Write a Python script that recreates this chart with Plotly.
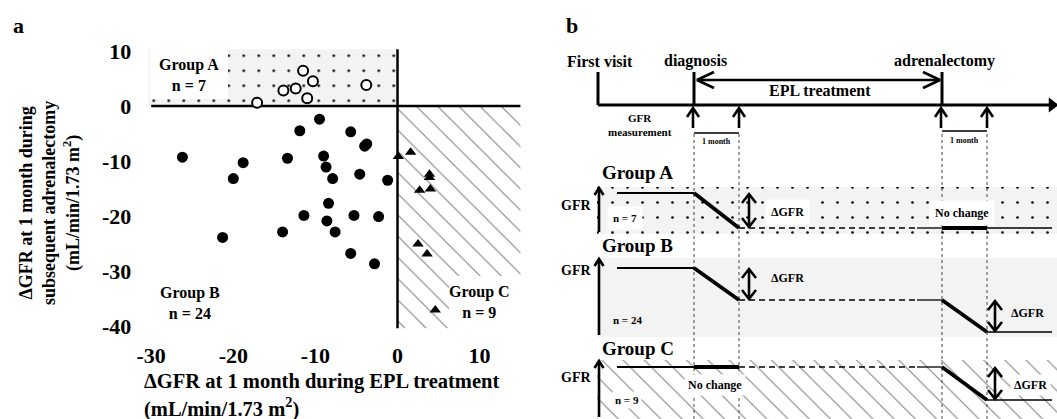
import plotly.graph_objects as go

W, H = 1057, 419
FONT = "Liberation Serif"

# ---------------- Panel a data ----------------
groupA_x = [-17.1, -13.9, -12.4, -11.5, -11.0, -10.3, -3.8]
groupA_y = [0.6, 2.8, 3.2, 6.4, 1.4, 4.5, 3.8]
groupB_x = [-26.2, -18.8, -20.0, -13.4, -11.9, -9.5, -5.7, -4.0, -3.75, -9.0, -8.7, -7.9,
            -4.6, -1.2, -8.4, -11.4, -8.6, -5.3, -2.3, -7.6, -14.0, -21.3, -5.7, -2.8]
groupB_y = [-9.3, -10.3, -13.2, -9.5, -4.5, -2.4, -4.7, -7.3, -6.9, -9.1, -11.1, -13.2,
            -12.4, -13.5, -17.7, -19.9, -20.9, -19.9, -20.1, -22.9, -22.9, -23.9, -26.8, -28.7]
groupC_x = [0.1, 1.6, 3.9, 3.9, 2.7, 4.0, 2.5, 3.6, 4.6]
groupC_y = [-9.2, -8.4, -12.4, -13.0, -15.3, -15.1, -25.1, -26.9, -37.1]
x_ticks = [-30, -20, -10, 0, 10]
y_ticks = [10, 0, -10, -20, -30, -40]
x_range = [-30.6, 15.0]
y_range = [-41.0, 10.5]
quadA_x = [-30.3, 0.0]     # shaded region of group A
quadA_y = [0.0, 10.3]
quadC_x = [0.0, 15.0]      # hatched region of group C
quadC_y = [-40.4, 0.0]

# ---------------- Panel b schematic (schematic units) ----------------
t_first, t_diag, t_diag_1m, t_adx, t_adx_1m, t_end = 598, 694, 739, 942, 987, 1052
t_line_start, t_dash_end = 617, 917
timeline_y = 105
group_names = ["Group A", "Group B", "Group C"]
group_n = ["n = 7", "n = 24", "n = 9"]
band_top = [187, 258, 360]
band_bot = [234, 337, 419]
level_hi = [193, 268, 367]
level_mid = [228, 300, 367]
level_lo = [228, 332, 400]
band_fill = ["dots", "plain", "hatch"]


def px(x):
    return x / W


def py(y):
    return 1 - y / H


def F(size, color="black"):
    return dict(family=FONT, size=size, color=color, weight="bold")


DOTS = dict(shape=".", fgcolor="black", bgcolor="#f3f3f3", size=15, solidity=0.025)
HATCH = dict(shape="\\", fgcolor="black", fgopacity=0.5, bgcolor="white", size=15, solidity=0.07)

fig = go.Figure()

# ---- Panel a regions ----
fig.add_trace(go.Scatter(
    x=[quadA_x[0], quadA_x[1], quadA_x[1], quadA_x[0], quadA_x[0]],
    y=[quadA_y[0], quadA_y[0], quadA_y[1], quadA_y[1], quadA_y[0]],
    fill="toself", mode="lines", line=dict(width=0), fillcolor="#f3f3f3",
    fillpattern=DOTS, hoverinfo="skip", xaxis="x", yaxis="y"))
fig.add_trace(go.Scatter(
    x=[quadC_x[0], quadC_x[1], quadC_x[1], quadC_x[0], quadC_x[0]],
    y=[quadC_y[0], quadC_y[0], quadC_y[1], quadC_y[1], quadC_y[0]],
    fill="toself", mode="lines", line=dict(width=0), fillcolor="white",
    fillpattern=HATCH, hoverinfo="skip", xaxis="x", yaxis="y"))

# zero lines
fig.add_trace(go.Scatter(x=[-30.0, x_range[1], None, 0, 0], y=[0, 0, None, quadA_y[1], quadC_y[0]],
                         mode="lines", line=dict(color="black", width=2.5), hoverinfo="skip",
                         xaxis="x", yaxis="y"))

# points
fig.add_trace(go.Scatter(x=groupB_x, y=groupB_y, mode="markers",
                         marker=dict(symbol="circle", size=11, color="black"), xaxis="x", yaxis="y"))
fig.add_trace(go.Scatter(x=groupA_x, y=groupA_y, mode="markers",
                         marker=dict(symbol="circle", size=10, color="white",
                                     line=dict(color="black", width=2)), xaxis="x", yaxis="y"))
fig.add_trace(go.Scatter(x=groupC_x, y=groupC_y, mode="markers",
                         marker=dict(symbol="triangle-up", size=10, color="black"), xaxis="x", yaxis="y"))

# ---- Panel b ----
for i in range(3):
    xs = [597, W, W, 597, 597]
    ys = [band_top[i], band_top[i], band_bot[i], band_bot[i], band_top[i]]
    if band_fill[i] == "dots":
        kw = dict(fillpattern=DOTS, fillcolor="#f3f3f3")
    elif band_fill[i] == "hatch":
        kw = dict(fillpattern=HATCH, fillcolor="white")
    else:
        kw = dict(fillcolor="#f3f3f3")
    fig.add_trace(go.Scatter(x=xs, y=ys, fill="toself", mode="lines", line=dict(width=0),
                             hoverinfo="skip", xaxis="x2", yaxis="y2", **kw))

seg = {"dot": ([], []), "thin": ([], []), "med": ([], []), "thick": ([], []),
       "dash": ([], []), "arrow": ([], []), "axis": ([], [])}


def add(style, x0, y0, x1, y1):
    seg[style][0].extend([x0, x1, None])
    seg[style][1].extend([y0, y1, None])


def chev(style, x, y, dx, dy, w, d):
    bx, by = x - dx * d, y - dy * d
    pxv, pyv = -dy, dx
    seg[style][0].extend([bx + pxv * w, x, bx - pxv * w, None])
    seg[style][1].extend([by + pyv * w, y, by - pyv * w, None])


# dotted guides
for t in [t_diag, t_diag_1m, t_adx, t_adx_1m]:
    add("dot", t, 134, t, H)

# timeline
add("axis", t_first, timeline_y, t_end, timeline_y)
for t in [t_first, t_diag, t_adx]:
    add("axis", t, 72, t, timeline_y)
# EPL treatment double arrow
add("arrow", t_diag + 3, 80, t_adx - 2, 80)
chev("arrow", t_diag + 3, 80, -1, 0, 8, 17)
chev("arrow", t_adx - 2, 80, 1, 0, 8, 17)
# measurement arrows
for t in [t_diag - 1, t_diag_1m, t_adx - 1, t_adx_1m]:
    add("arrow", t, 128, t, 108)
    chev("arrow", t, 108, 0, -1, 6, 9)
# 1 month brackets
add("thin", t_diag, 133, t_diag_1m, 133)
add("thin", t_adx, 131, t_adx_1m, 131)

for i in range(3):
    hi, mid, lo = level_hi[i], level_mid[i], level_lo[i]
    add("med", t_line_start, hi, t_diag, hi)
    add("thick", t_diag, hi, t_diag_1m, mid)
    add("dash", t_diag_1m, mid, t_dash_end, mid)
    add("thin", t_dash_end, mid, t_adx, mid)
    add("thick", t_adx, mid, t_adx_1m, lo)
    add("thin", t_adx_1m, lo, t_end, lo)
    # GFR axis arrow
    add("arrow", 599, band_bot[i] - 2, 599, band_top[i] + 1)
    chev("arrow", 599, band_top[i] + 1, 0, -1, 4.5, 7)
    if hi != mid:
        add("arrow", 749, hi + 1, 749, mid - 1)
        chev("arrow", 749, hi + 1, 0, -1, 7, 9)
        chev("arrow", 749, mid - 1, 0, 1, 7, 9)
    if mid != lo:
        add("arrow", 995, mid + 1, 995, lo - 1)
        chev("arrow", 995, mid + 1, 0, -1, 7, 9)
        chev("arrow", 995, lo - 1, 0, 1, 7, 9)

styles = {"dot": dict(color="#444", width=1, dash="dot"),
          "thin": dict(color="black", width=1.3),
          "med": dict(color="black", width=2),
          "thick": dict(color="black", width=3.8),
          "dash": dict(color="black", width=1.5, dash="6px,4px"),
          "arrow": dict(color="black", width=2.6),
          "axis": dict(color="black", width=3)}
for k, (xs, ys) in seg.items():
    fig.add_trace(go.Scatter(x=xs, y=ys, mode="lines", line=styles[k], hoverinfo="skip",
                             xaxis="x2", yaxis="y2"))
# timeline arrow head
fig.add_trace(go.Scatter(x=[t_end], y=[timeline_y], mode="markers",
                         marker=dict(symbol="triangle-right", size=13, color="black"),
                         hoverinfo="skip", xaxis="x2", yaxis="y2"))

ann = []


def A(text, x, y, size, xanchor="center", bg=None, angle=0, align="center", pad=1):
    d = dict(text=text, x=px(x), y=py(y), xref="paper", yref="paper", showarrow=False,
             font=F(size), xanchor=xanchor, yanchor="middle", align=align, textangle=angle,
             borderpad=pad)
    if bg:
        d["bgcolor"] = bg
    ann.append(d)


# panel labels
A("a", 18, 25, 22)
A("b", 572, 25, 22)
# panel a labels
A("Group A<br>n = 7", 189, 75, 16)
A("Group B<br>n = 24", 190, 303, 16)
A("Group C<br>n = 9", 479, 302, 16)
A("ΔGFR at 1 month during EPL treatment", 142, 381, 20.5, xanchor="left")
A("(mL/min/1.73 m<sup>2</sup>)", 142, 407, 20.5, xanchor="left")
A("ΔGFR at 1 month during<br>subsequent adrenalectomy<br>(mL/min/1.73 m<sup>2</sup>)", 50, 203, 18, angle=-90)

# panel b labels
A("First visit", 600, 61, 16)
A("diagnosis", 695, 61, 16)
A("adrenalectomy", 944, 61, 16)
A("EPL treatment", 820, 91, 16)
A("GFR<br>measurement", 640, 125, 11)
A("1 month", 716, 142, 8)
A("1 month", 964, 140, 8)
group_title_y = [172, 245, 348]
gfr_label_y = [205, 270, 377]
for i in range(3):
    A(group_names[i], 600, group_title_y[i], 19, xanchor="left")
    A("GFR", 576, gfr_label_y[i], 14)
A("n = 7", 625, 218, 11, bg="white", pad=5)
A("n = 24", 627, 320, 11)
A("n = 9", 627, 400, 11, bg="white", pad=2)
A("ΔGFR", 787, 212, 12, bg="white", pad=5)
A("ΔGFR", 787, 278, 12)
A("ΔGFR", 1027, 313, 12)
A("ΔGFR", 1030, 385, 12, bg="white", pad=3)
A("No change", 962, 213, 12, bg="white", pad=5)
A("No change", 715, 385, 12, bg="white", pad=3)

shapes = [
    dict(type="rect", xref="paper", yref="paper", x0=px(150), x1=px(228), y0=py(99), y1=py(48.5),
         fillcolor="white", line=dict(width=0), layer="above"),
    dict(type="rect", xref="paper", yref="paper", x0=px(449), x1=px(521), y0=py(331), y1=py(276),
         fillcolor="white", line=dict(width=0), layer="above"),
]

x0p = 397.5 + x_range[0] * 8.21
x1p = 397.5 + x_range[1] * 8.21
y0p = 106 - y_range[0] * 5.5
y1p = 106 - y_range[1] * 5.5

fig.update_layout(
    template="none",
    width=W, height=H, margin=dict(l=0, r=0, t=0, b=0, pad=0, autoexpand=False),
    paper_bgcolor="white", plot_bgcolor="rgba(0,0,0,0)", showlegend=False,
    font=F(16),
    xaxis=dict(domain=[px(x0p), px(x1p)], range=x_range, anchor="y", showgrid=False,
               zeroline=False, showline=False, ticks="", tickvals=x_ticks, automargin=False,
               ticktext=[str(v) for v in x_ticks], tickfont=F(22), ticklabelstandoff=8),
    yaxis=dict(domain=[py(y0p), py(y1p)], range=y_range, anchor="x", showgrid=False,
               zeroline=False, showline=False, ticks="", tickvals=y_ticks, automargin=False,
               ticktext=[str(v) for v in y_ticks], tickfont=F(22), ticklabelstandoff=14),
    xaxis2=dict(domain=[560 / W, 1.0], range=[560, W], anchor="y2", visible=False, automargin=False),
    yaxis2=dict(domain=[0, 1], range=[H, 0], anchor="x2", visible=False, automargin=False),
    annotations=ann, shapes=shapes,
)

fig.write_html("out.html", config={"displayModeBar": False},
               post_script="document.body.style.margin='0';document.body.style.overflow='hidden';")
